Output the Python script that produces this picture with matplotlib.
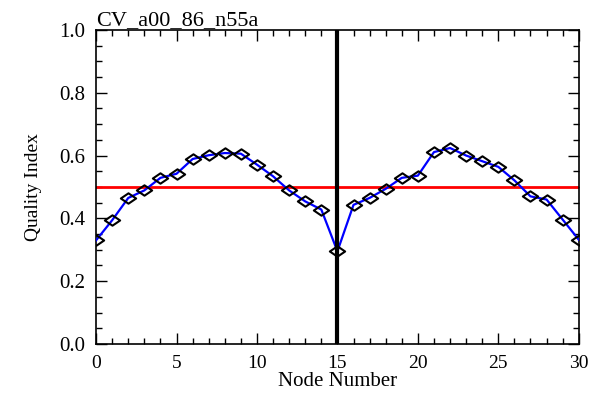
import numpy as np
import matplotlib.pyplot as plt
from matplotlib.path import Path
from matplotlib.ticker import MultipleLocator

plt.rcParams["font.family"] = ["Liberation Serif", "DejaVu Serif"]

node = list(range(31))
quality = [0.330, 0.394, 0.465, 0.489, 0.529, 0.542, 0.589, 0.601, 0.608, 0.606,
           0.571, 0.534, 0.489, 0.454, 0.428, 0.295, 0.443, 0.465, 0.494, 0.529,
           0.536, 0.611, 0.624, 0.600, 0.582, 0.564, 0.521, 0.470, 0.460, 0.396,
           0.332]
threshold = 0.5
split_node = 15
run_name = "CV_a00_86_n55a"

# flat diamond like the IDL psym=4 symbol
diamond = Path([(-1, 0), (0, 0.68), (1, 0), (0, -0.68), (-1, 0)],
               [Path.MOVETO, Path.LINETO, Path.LINETO, Path.LINETO, Path.CLOSEPOLY])

fig = plt.figure(figsize=(5.93, 3.94), dpi=100)
ax = fig.add_axes([0.162, 0.127, 0.814, 0.797])

ax.plot(node, quality, color="#0000ff", linewidth=1.6, zorder=3)
ax.plot(node, quality, linestyle="none", marker=diamond, markersize=11,
        markerfacecolor="none", markeredgecolor="black", markeredgewidth=1.5,
        zorder=4)
ax.axhline(threshold, color="#ff0000", linewidth=2, zorder=2)
ax.axvline(split_node, color="black", linewidth=3, zorder=5)

ax.set_xlim(0, 30)
ax.set_ylim(0, 1.0)
ax.xaxis.set_major_locator(MultipleLocator(5))
ax.xaxis.set_minor_locator(MultipleLocator(1))
ax.yaxis.set_major_locator(MultipleLocator(0.2))
ax.yaxis.set_minor_locator(MultipleLocator(0.05))
ax.yaxis.set_major_formatter(plt.FuncFormatter(lambda v, p: f"{v:.1f}"))

ax.tick_params(which="both", direction="in", top=True, right=True, width=1)
ax.tick_params(axis="x", which="major", pad=8, labelsize=14)
ax.tick_params(axis="y", which="major", pad=8, labelsize=15)
ax.tick_params(which="major", length=8)
ax.tick_params(which="minor", length=4)
for s in ax.spines.values():
    s.set_linewidth(1.2)

ax.set_xlabel("Node Number", fontsize=15, labelpad=0)
ax.set_ylabel("Quality Index", fontsize=14, labelpad=12)
ax.set_title(run_name, loc="left", fontsize=16, pad=2)

fig.savefig("out.png", dpi=100)
